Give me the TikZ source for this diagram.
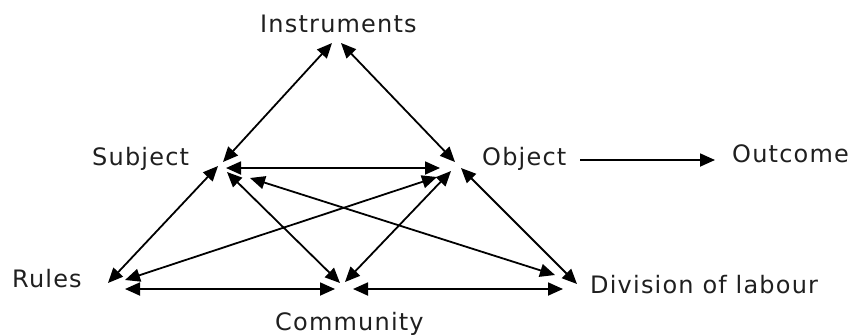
\documentclass[tikz,border=0pt]{standalone}
\usepackage{fontspec}
\newfontfamily\labfont{DejaVu Sans}[LetterSpace=5]
\usetikzlibrary{arrows.meta}
\begin{document}
\begin{tikzpicture}[x=1pt,y=-1pt,
  lab/.style={anchor=base west,inner sep=0pt,font=\labfont\fontsize{24}{26}\selectfont,text=black!88},
  link/.style={line width=1.8pt,{Triangle[length=15pt,width=13pt]}-{Triangle[length=15pt,width=13pt]}},
  onelink/.style={line width=1.8pt,-{Triangle[length=15pt,width=13pt]}}]
\useasboundingbox (0,0) rectangle (851,335);
% labels
\node[lab] (I) at (260,32) {Instruments};
\node[lab] (S) at (92,165) {Subject};
\node[lab] (O) at (482,165) {Object};
\node[lab] (Out) at (732,162) {Outcome};
\node[lab] (R) at (12,287) {Rules};
\node[lab] (C) at (275,330) {Community};
\node[lab] (D) at (590,293) {Division of labour};
% connector ends
\coordinate (iL) at (332,43);
\coordinate (iR) at (341,43);
\coordinate (sI) at (223,162);
\coordinate (sO) at (226,168);
\coordinate (sR) at (218,166);
\coordinate (sC) at (227,172);
\coordinate (sD) at (250,178);
\coordinate (oI) at (455,162);
\coordinate (oS) at (440,168);
\coordinate (oR) at (437,177);
\coordinate (oC) at (451,171);
\coordinate (oD) at (461,168);
\coordinate (oOut) at (580,160);
\coordinate (outIn) at (715,160);
\coordinate (rS) at (108,283);
\coordinate (rO) at (125,280);
\coordinate (rC) at (125,289);
\coordinate (cS) at (340,283);
\coordinate (cO) at (345,282);
\coordinate (cR) at (335,289);
\coordinate (cD) at (353,289);
\coordinate (dS) at (555,275);
\coordinate (dO) at (577,284);
\coordinate (dC) at (563,289);
% connectors
\draw[link] (iL) -- (sI);
\draw[link] (iR) -- (oI);
\draw[link] (sO) -- (oS);
\draw[link] (sR) -- (rS);
\draw[link] (sC) -- (cS);
\draw[link] (sD) -- (dS);
\draw[link] (oR) -- (rO);
\draw[link] (oC) -- (cO);
\draw[link] (oD) -- (dO);
\draw[link] (rC) -- (cR);
\draw[link] (cD) -- (dC);
\draw[onelink] (oOut) -- (outIn);
\end{tikzpicture}
\end{document}
